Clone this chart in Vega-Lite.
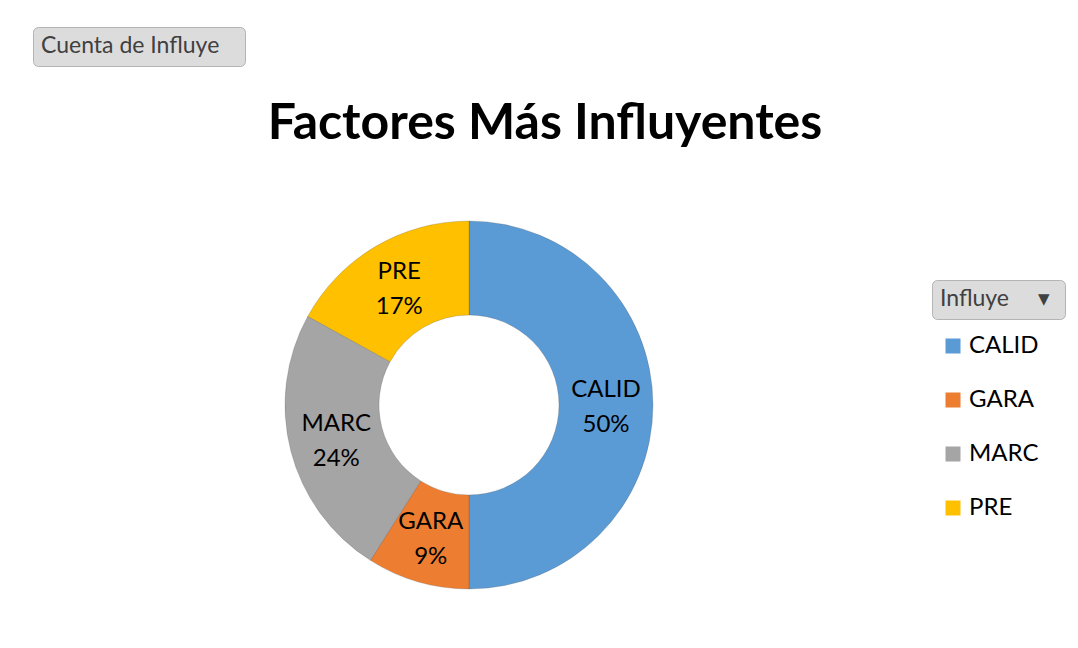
{
  "$schema": "https://vega.github.io/schema/vega-lite/v6.json",
  "width": 368,
  "height": 368,
  "autosize": {"type": "none"},
  "padding": {"left": 285, "top": 221, "right": 425, "bottom": 59},
  "background": "white",
  "title": {
    "text": "Factores Más Influyentes",
    "font": "Lato",
    "fontSize": 50,
    "fontWeight": "bold",
    "color": "#000000",
    "anchor": "middle",
    "frame": "group",
    "dx": 76,
    "offset": -122.5
  },
  "data": {
    "values": [
      {"Influye": "CALID", "pct": 50},
      {"Influye": "GARA", "pct": 9},
      {"Influye": "MARC", "pct": 24},
      {"Influye": "PRE", "pct": 17}
    ]
  },
  "transform": [
    {"calculate": "datum.Influye + '\\n' + datum.pct + '%'", "as": "label"}
  ],
  "encoding": {
    "theta": {"field": "pct", "type": "quantitative", "stack": true},
    "order": {"field": "Influye", "type": "ordinal", "sort": "ascending"}
  },
  "layer": [
    {
      "mark": {"type": "arc", "outerRadius": 184, "innerRadius": 90, "stroke": "#404040", "strokeWidth": 0.6, "strokeOpacity": 0.35},
      "encoding": {
        "color": {
          "field": "Influye",
          "type": "nominal",
          "scale": {"domain": ["CALID", "GARA", "MARC", "PRE"], "range": ["#5B9BD5", "#ED7D31", "#A5A5A5", "#FFC000"]},
          "legend": {
            "orient": "none",
            "legendX": 656,
            "legendY": 113,
            "title": null,
            "symbolType": "square",
            "symbolSize": 225,
            "symbolStrokeWidth": 0,
            "labelFont": "Lato",
            "labelFontSize": 24,
            "labelColor": "#000000",
            "labelOffset": 4,
            "rowPadding": 30,
            "padding": 0
          }
        },
        "opacity": {
          "field": "pct",
          "type": "quantitative",
          "scale": {"domain": [0, 100], "range": [1, 1]},
          "legend": {
            "orient": "none",
            "legendX": -252,
            "legendY": -194,
            "title": "Cuenta de Influye\u00a0\u00a0\u00a0\u200b",
            "titleFont": "Lato",
            "titleFontSize": 23,
            "titleFontWeight": "normal",
            "titleColor": "#404040",
            "titleLimit": 400,
            "titlePadding": 0,
            "values": [],
            "fillColor": "#dcdcdc",
            "strokeColor": "#b4b4b4",
            "cornerRadius": 5,
            "padding": 8
          }
        }
      }
    },
    {
      "mark": {"type": "text", "radius": 137, "font": "Lato", "lineBreak": "\n", "fill": "#000000", "lineHeight": 35, "dy": -15},
      "encoding": {
        "text": {"field": "label", "type": "nominal"},
        "detail": {"field": "Influye", "type": "nominal"},
        "size": {
          "field": "pct",
          "type": "quantitative",
          "scale": {"domain": [0, 200], "range": [24, 24]},
          "legend": {
            "orient": "none",
            "legendX": 647,
            "legendY": 59,
            "title": "Influye\u00a0\u00a0\u00a0\u00a0\u00a0▾\u00a0\u200b",
            "titleFont": "Lato",
            "titleFontSize": 23,
            "titleFontWeight": "normal",
            "titleColor": "#404040",
            "titleLimit": 400,
            "titlePadding": 0,
            "values": [],
            "fillColor": "#dcdcdc",
            "strokeColor": "#b4b4b4",
            "cornerRadius": 5,
            "padding": 8
          }
        }
      }
    }
  ],
  "config": {"view": {"stroke": null}}
}
